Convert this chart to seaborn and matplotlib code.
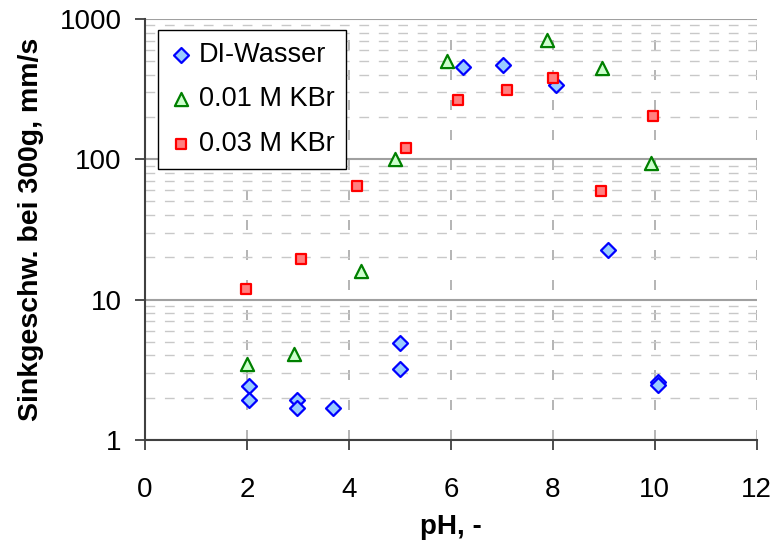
import matplotlib
matplotlib.use("Agg")
import matplotlib.pyplot as plt
import seaborn as sns
import pandas as pd
import numpy as np
from matplotlib.ticker import LogLocator, FixedLocator, NullFormatter

sns.set_theme(style="white")
plt.rcParams['font.family'] = ['Liberation Sans', 'DejaVu Sans']

# Data
di_ph = [2.03, 2.03, 2.98, 2.98, 3.69, 5.0, 5.0, 6.23, 7.02, 8.07, 9.09, 10.07, 10.07]
di_v = [2.43, 1.93, 1.93, 1.69, 1.69, 4.9, 3.2, 453, 471, 337, 22.6, 2.6, 2.45]
k1_ph = [2.0, 2.93, 4.24, 4.9, 5.92, 7.88, 8.97, 9.92]
k1_v = [3.5, 4.1, 16.0, 100, 500, 710, 450, 94]
k3_ph = [1.99, 3.05, 4.15, 5.12, 6.14, 7.11, 8.01, 8.95, 9.97]
k3_v = [11.9, 19.4, 64, 121, 265, 312, 382, 59, 204]
labels = ["DI-Wasser", "0.01 M KBr", "0.03 M KBr"]
x_ticks = [0, 2, 4, 6, 8, 10, 12]
y_ticks = [1, 10, 100, 1000]

df = pd.concat([
    pd.DataFrame({"pH": di_ph, "v": di_v, "series": labels[0]}),
    pd.DataFrame({"pH": k1_ph, "v": k1_v, "series": labels[1]}),
    pd.DataFrame({"pH": k3_ph, "v": k3_v, "series": labels[2]}),
])

fig = plt.figure(figsize=(7.8, 5.41), dpi=100)
ax = fig.add_axes([0.186, 0.187, 0.784, 0.778])

styles = {
    labels[0]: dict(marker="D", s=58, facecolor="#99ccff", edgecolor="#0000ff"),
    labels[1]: dict(marker="^", s=90, facecolor="#ccffcc", edgecolor="#008000"),
    labels[2]: dict(marker="s", s=62, facecolor="#ff8080", edgecolor="#ff0000"),
}
for lab in labels:
    st = styles[lab]
    sub = df[df.series == lab]
    sns.scatterplot(data=sub, x="pH", y="v", ax=ax, marker=st["marker"], s=st["s"],
                    color=st["facecolor"], edgecolor=st["edgecolor"], linewidth=1.6,
                    label=lab, zorder=5)

ax.set_yscale("log")
ax.set_xlim(0, 12)
ax.set_ylim(1, 1000)
ax.xaxis.set_major_locator(FixedLocator(x_ticks))
ax.yaxis.set_major_locator(FixedLocator(y_ticks))
ax.set_yticklabels([str(t) for t in y_ticks])
ax.yaxis.set_minor_locator(LogLocator(base=10, subs=np.arange(2, 10)))
ax.yaxis.set_minor_formatter(NullFormatter())

ax.grid(False)
ax.grid(True, which="major", axis="y", color="#a0a0a0", linestyle="-", linewidth=1.5)
ax.grid(True, which="minor", axis="y", color="#c8c8c8", linestyle=(0, (7, 7)), linewidth=1.0)
ax.grid(True, which="major", axis="x", color="#a8a8a8", linestyle=(0, (6, 12)), linewidth=1.2)
ax.set_axisbelow(True)

for sp in ["top", "right"]:
    ax.spines[sp].set_visible(False)
for sp in ["left", "bottom"]:
    ax.spines[sp].set_color("#404040")
    ax.spines[sp].set_linewidth(1.5)

ax.tick_params(axis="x", which="major", direction="out", length=7, width=1.3,
               color="#404040", labelsize=20, bottom=True, pad=19.5, labelcolor="black")
ax.tick_params(axis="y", which="major", direction="out", length=7, width=1.3,
               color="#404040", labelsize=20, left=True, pad=10, labelcolor="black")
ax.tick_params(axis="y", which="minor", length=0)

ax.set_xlabel("pH, -", fontsize=20, fontweight="bold", labelpad=8.5, color="black")
ax.set_ylabel("Sinkgeschw. bei 300g, mm/s", fontsize=20.5, fontweight="bold", labelpad=11,
              color="black")

leg = ax.legend(loc="upper left", bbox_to_anchor=(0.021, 0.974), borderaxespad=0,
                frameon=True, fancybox=False,
                fontsize=19.5, handletextpad=0.25, borderpad=0.45, labelspacing=0.68,
                handlelength=0.8, markerscale=1.0)
leg.get_frame().set_edgecolor("black")
leg.get_frame().set_linewidth(1.0)
leg.get_frame().set_alpha(1)
for t in leg.get_texts():
    t.set_color("black")

fig.savefig("out.png", dpi=100)
